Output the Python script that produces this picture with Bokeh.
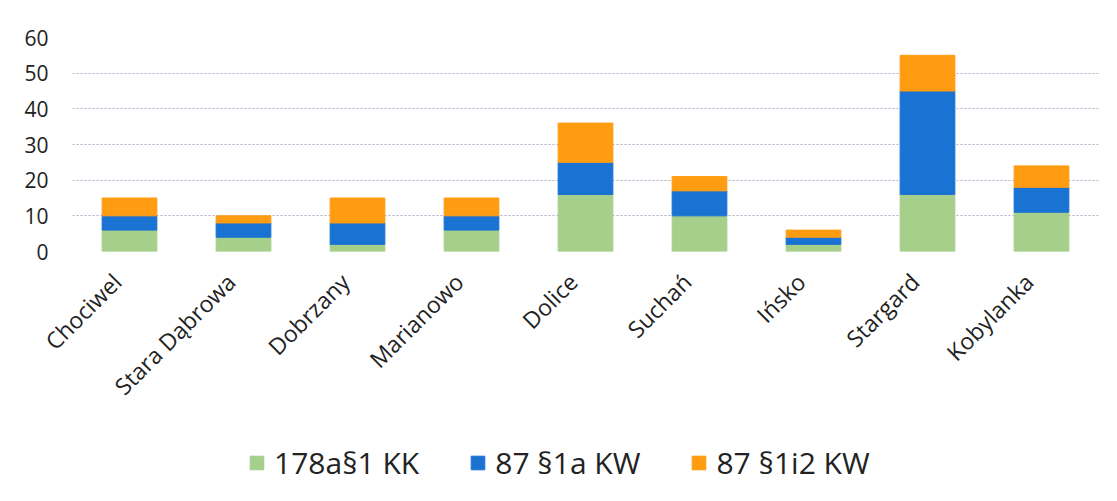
from math import pi
from bokeh.plotting import figure
from bokeh.layouts import column
from bokeh.models import (ColumnDataSource, Legend, LegendItem, FixedTicker,
                          Range1d, LinearAxis)
from bokeh.embed import file_html
from bokeh.resources import INLINE

categories = ["Chociwel", "Stara Dąbrowa", "Dobrzany", "Marianowo", "Dolice",
              "Suchań", "Ińsko", "Stargard", "Kobylanka"]
series_names = ["178a§1 KK", "87 §1a KW", "87 §1i2 KW"]
kk_178a_1 = [6, 4, 2, 6, 16, 10, 2, 16, 11]
kw_87_1a = [4, 4, 6, 4, 9, 7, 2, 29, 7]
kw_87_1i2 = [5, 2, 7, 5, 11, 4, 2, 10, 6]
y_ticks = [0, 10, 20, 30, 40, 50, 60]
colors = ["#a6cf8b", "#1a72d2", "#ff9c12"]

n = len(categories)
idx = list(range(n))
keys = ["s0", "s1", "s2"]
source = ColumnDataSource(dict(x=idx, cat=categories, s0=kk_178a_1, s1=kw_87_1a, s2=kw_87_1i2))

W = 1101
p = figure(x_range=Range1d(-0.5, n - 0.5), y_range=(0, 60), width=W, height=430,
           output_backend="svg", toolbar_location=None, x_axis_location=None,
           min_border_left=72, min_border_right=3, min_border_top=37,
           min_border_bottom=179)
p.outline_line_color = None
p.background_fill_color = "white"
p.border_fill_color = "white"

renderers = p.vbar_stack(keys, x="x", width=0.48, color=colors, source=source)

p.xgrid.grid_line_color = None
p.ygrid.grid_line_color = "#b4aac8"
p.ygrid.grid_line_dash = "2 2"
p.ygrid.grid_line_width = 1
p.yaxis.ticker = FixedTicker(ticks=y_ticks)

# category label axis (slightly shifted so rotated labels end at their bar)
shift = 0.11
p.extra_x_ranges = {"lbl": Range1d(-0.5 + shift, n - 0.5 + shift)}
lbl_axis = LinearAxis(x_range_name="lbl", ticker=FixedTicker(ticks=idx),
                      major_label_overrides={i: c for i, c in enumerate(categories)})
p.add_layout(lbl_axis, "below")

for ax in (lbl_axis, p.yaxis[0]):
    ax.axis_line_color = None
    ax.major_tick_line_color = None
    ax.minor_tick_line_color = None
    ax.major_label_text_font = "Open Sans"
    ax.major_label_text_color = "#222222"

p.yaxis.major_label_text_font_size = "21px"
p.yaxis.major_label_standoff = 18
lbl_axis.major_label_text_font_size = "23px"
lbl_axis.major_label_orientation = pi / 4
lbl_axis.major_label_standoff = 20

# legend figure
lf = figure(x_range=Range1d(-0.5, n - 0.5), y_range=(100, 101), width=W, height=55,
            output_backend="svg", toolbar_location=None,
            x_axis_location=None, y_axis_location=None, min_border=0)
lf.outline_line_color = None
lf.grid.grid_line_color = None
lr = lf.vbar_stack(keys, x="x", width=0.48, color=colors, source=source)
legend = Legend(items=[LegendItem(label=s, renderers=[r]) for s, r in zip(series_names, lr)],
                location=(176, 2), orientation="horizontal",
                label_text_font="Open Sans", label_text_font_size="30px",
                label_text_color="#222222", glyph_width=17, glyph_height=17,
                label_standoff=9, spacing=50, padding=4,
                border_line_color=None, background_fill_alpha=0)
lf.add_layout(legend, "center")

layout = column(p, lf, spacing=0)
open("out.html", "w").write(file_html(layout, INLINE))
